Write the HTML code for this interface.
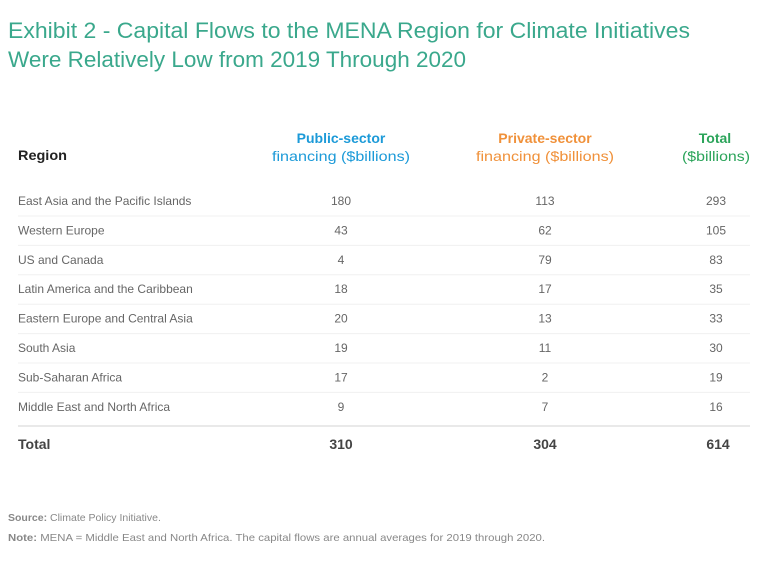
<!DOCTYPE html>
<html><head><meta charset="utf-8"><style>
body{margin:0;background:#fff;width:768px;height:569px;overflow:hidden}
svg text{font-family:"Liberation Sans",sans-serif}
</style></head><body>
<svg width="768" height="569">
<text x="8" y="38" font-size="22" fill="#3aa88c" textLength="682" lengthAdjust="spacingAndGlyphs">Exhibit 2 - Capital Flows to the MENA Region for Climate Initiatives</text>
<text x="8" y="67" font-size="22" fill="#3aa88c" textLength="458" lengthAdjust="spacingAndGlyphs">Were Relatively Low from 2019 Through 2020</text>
<text x="18" y="160" font-size="14" font-weight="bold" fill="#222" textLength="49" lengthAdjust="spacingAndGlyphs">Region</text>
<g fill="#1c9ad8" font-size="14" font-weight="bold" text-anchor="middle">
<text x="341" y="143">Public-sector</text><text x="341" y="161" font-weight="normal" textLength="138" lengthAdjust="spacingAndGlyphs">financing ($billions)</text></g>
<g fill="#f0913a" font-size="14" font-weight="bold" text-anchor="middle">
<text x="545" y="143">Private-sector</text><text x="545" y="161" font-weight="normal" textLength="138" lengthAdjust="spacingAndGlyphs">financing ($billions)</text></g>
<g fill="#2ba45a" font-size="14" font-weight="bold" text-anchor="middle">
<text x="715" y="143">Total</text><text x="716" y="161" font-weight="normal" textLength="68" lengthAdjust="spacingAndGlyphs">($billions)</text></g>
<g id="rows"></g>
<line x1="18" x2="750" y1="426" y2="426" stroke="#e2e2e2" stroke-width="1.5"/>
<text x="18" y="449" font-size="14" font-weight="bold" fill="#444">Total</text>
<text x="341" y="449" font-size="14" font-weight="bold" fill="#444" text-anchor="middle">310</text>
<text x="545" y="449" font-size="14" font-weight="bold" fill="#444" text-anchor="middle">304</text>
<text x="718" y="449" font-size="14" font-weight="bold" fill="#444" text-anchor="middle">614</text>
<text x="8" y="521" font-size="10.5" fill="#888"><tspan font-weight="bold">Source:</tspan> Climate Policy Initiative.</text>
<text x="8" y="541" font-size="10.5" fill="#888" textLength="537" lengthAdjust="spacingAndGlyphs"><tspan font-weight="bold">Note:</tspan> MENA = Middle East and North Africa. The capital flows are annual averages for 2019 through 2020.</text>
</svg>
<script>
const regions=["East Asia and the Pacific Islands","Western Europe","US and Canada","Latin America and the Caribbean","Eastern Europe and Central Asia","South Asia","Sub-Saharan Africa","Middle East and North Africa"];
const publicVals=[180,43,4,18,20,19,17,9];
const privateVals=[113,62,79,17,13,11,2,7];
const totalVals=[293,105,83,35,33,30,19,16];
const NS="http://www.w3.org/2000/svg";
const g=document.getElementById('rows');
const rowY=i=>201+i*29.4;
function t(x,y,s,anchor){const e=document.createElementNS(NS,'text');e.setAttribute('x',x);e.setAttribute('y',y);e.setAttribute('font-size','12');e.setAttribute('fill','#666');if(anchor)e.setAttribute('text-anchor',anchor);e.textContent=s;g.appendChild(e);return e;}
regions.forEach((r,i)=>{
const y=rowY(i)+4;
const a=t(18,y,r);


const b=t(341,y,publicVals[i],'middle');


const c=t(545,y,privateVals[i],'middle');


const d=t(716,y,totalVals[i],'middle');


if(i<regions.length-1){const l=document.createElementNS(NS,'line');
l.setAttribute('x1',18);l.setAttribute('x2',750);l.setAttribute('y1',rowY(i)+15);l.setAttribute('y2',rowY(i)+15);l.setAttribute('stroke','#f0f0f0');


g.appendChild(l);}
});
</script>
</body></html>
